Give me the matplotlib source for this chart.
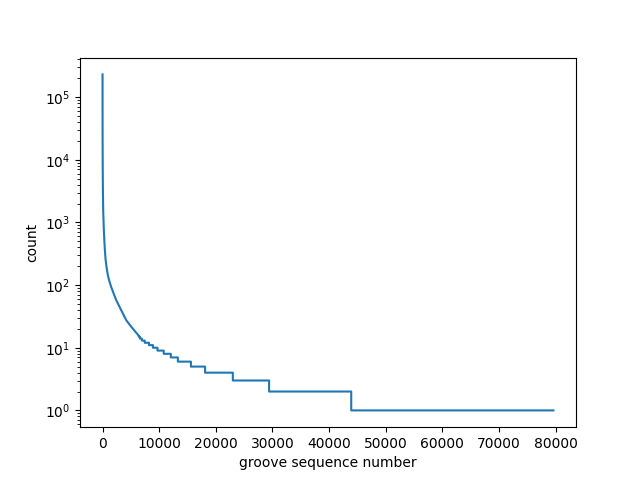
import numpy as np
import matplotlib
matplotlib.use("Agg")
import matplotlib.pyplot as plt

# Head of the distribution: (rank, count) points
head_rank = [0, 3, 10, 30, 60, 120, 230, 380, 530, 700, 900, 1100, 1300, 1550, 1800, 2100, 2430, 3000, 3600, 4200, 5000, 5800, 6400]
head_count = [230000, 60000, 20000, 8000, 3500, 1500, 750, 400, 260, 195, 150, 125, 108, 92, 80, 68, 57, 45, 35, 27.4, 22, 18, 15.5]

# Tail: integer counts and the rank at which each count ends
step_count = [15, 14, 13, 12, 11, 10, 9, 8, 7, 6, 5, 4, 3, 2, 1]
step_end = [6600, 6950, 7450, 8200, 8900, 9700, 10800, 12050, 13300, 15600, 18100, 23000, 29400, 43900, 79600]

x = list(head_rank)
y = list(head_count)
for c, e in zip(step_count, step_end):
    x.append(x[-1]); y.append(c)
    x.append(e); y.append(c)

fig, ax = plt.subplots(figsize=(6.4, 4.8), dpi=100)
ax.plot(x, y)
ax.set_yscale('log')
ax.set_xlabel('groove sequence number')
ax.set_ylabel('count')
fig.savefig('out.png')
